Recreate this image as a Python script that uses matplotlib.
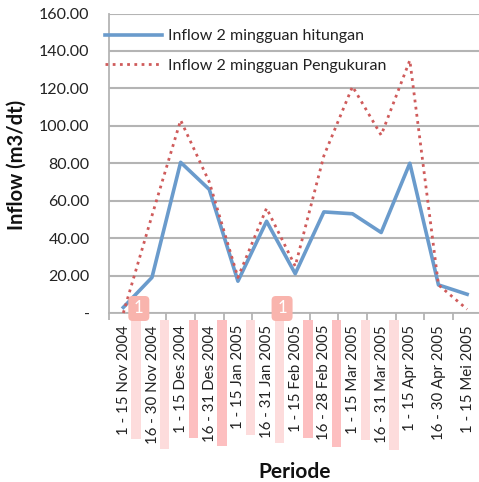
import matplotlib
matplotlib.use("Agg")
import matplotlib.pyplot as plt
from matplotlib.patches import Rectangle, FancyBboxPatch

plt.rcParams['font.family'] = ['Lato', 'DejaVu Sans']

periods = ["1 - 15 Nov 2004", "16 - 30 Nov 2004", "1 - 15 Des 2004", "16 - 31 Des 2004",
           "1 - 15 Jan 2005", "16 - 31 Jan 2005", "1 - 15 Feb 2005", "16 - 28 Feb 2005",
           "1 - 15 Mar 2005", "16 - 31 Mar 2005", "1 - 15 Apr 2005", "16 - 30 Apr 2005",
           "1 - 15 Mei 2005"]
hitungan = [3, 19, 80.5, 66, 17, 49, 21, 54, 53, 43, 80, 15, 10]
pengukuran = [0, 52, 103, 70, 19, 56, 25, 84, 121, 95, 135, 15, 2]
yticks = [0, 20, 40, 60, 80, 100, 120, 140, 160]
ylabels = ["-", "20.00", "40.00", "60.00", "80.00", "100.00", "120.00", "140.00", "160.00"]

# reviewer highlight strips behind the tick labels: category index, lower end (px below axis), colour
strip_idx = [0, 1, 2, 3, 4, 5, 6, 7, 8, 9]
strip_low = [126, 136, 125, 133, 122, 130, 125, 134, 127, 137]
strip_col = ['#fddcdc', '#fddcdc', '#fdbfc0', '#fdbfc0', '#fddcdc', '#fddcdc',
             '#fdbfc0', '#fdbfc0', '#fddcdc', '#fddcdc']
badge_idx = [0, 5]

W, H = 479, 482
fig = plt.figure(figsize=(W/100, H/100), dpi=100)
L, R, T, B = 109, 479, 13.5, 313
ax = fig.add_axes([L/W, 1-B/H, (R-L)/W, (B-T)/H])
x = list(range(len(periods)))
ax.set_xlim(-0.5, -0.5 + (R-L)/28.65)
ax.set_ylim(0, 160)

ax.yaxis.grid(True, color='#b4b4b4', lw=1.5, zorder=1)
ax.set_axisbelow(True)
for s in ('top', 'right'):
    ax.spines[s].set_visible(False)
for s in ('left', 'bottom'):
    ax.spines[s].set_color('#b4b4b4')
    ax.spines[s].set_linewidth(1.3)

ax.plot(x, hitungan, color='#6a9bcc', lw=2.6, label='Inflow 2 mingguan hitungan', zorder=3,
        solid_joinstyle='round', clip_on=False)
ax.plot(x, pengukuran, color='#cf5b5b', lw=2.0, ls=(0, (1, 1.6)), label='Inflow 2 mingguan Pengukuran',
        zorder=3, clip_on=False)

ax.set_yticks(yticks)
ax.set_yticklabels(ylabels, fontsize=11.5, color='#222222')
ax.set_xticks([i - 0.5 for i in x])
ax.set_xticklabels([])
ax.tick_params(axis='y', length=0, pad=14)
ax.tick_params(axis='x', length=5, width=1.3, color='#b4b4b4')

trans = ax.get_xaxis_transform()
pxy = 1/(B-T)
pxx = 1/28.65
for i, low, col in zip(strip_idx, strip_low, strip_col):
    ax.add_patch(Rectangle((i + 8*pxx, -low*pxy), 9.5*pxx, (low-7)*pxy, transform=trans,
                           facecolor=col, edgecolor='none', clip_on=False, zorder=0))
for i, lab in zip(x, periods):
    ax.text(i + 0.02, -12*pxy, lab, transform=trans, rotation=90, ha='center', va='top',
            fontsize=10.8, color='#222222', clip_on=False, zorder=5)
for i in badge_idx:
    ax.add_patch(FancyBboxPatch((i + 5*pxx, -8*pxy), 21*pxx, 25*pxy, transform=trans,
                                boxstyle="round,pad=0,rounding_size=0.15", mutation_aspect=pxy/pxx,
                                facecolor='#f9b4ad', edgecolor='none', clip_on=False, zorder=4))
    ax.text(i + 15.5*pxx, 5*pxy, "1", transform=trans, color='white', ha='center', va='center',
            fontsize=12, zorder=5)

ax.set_ylabel("Inflow (m3/dt)", fontsize=14.5, fontweight='bold', color='#111111')
ax.yaxis.set_label_coords(-(109-27)/(R-L), (B-165)/(B-T))
ax.text((295-L)/(R-L), -(472-313)*pxy, "Periode", transform=ax.transAxes, ha='center',
        va='center', fontsize=15, fontweight='bold', color='#111111')

leg = ax.legend(loc='upper left', bbox_to_anchor=(-0.012, 0.948), frameon=False, fontsize=11.5,
                labelspacing=0.98, handlelength=3.6, handletextpad=0.38, borderaxespad=0, borderpad=0)
for t in leg.get_texts():
    t.set_color('#222222')

fig.savefig("out.png", dpi=100)
